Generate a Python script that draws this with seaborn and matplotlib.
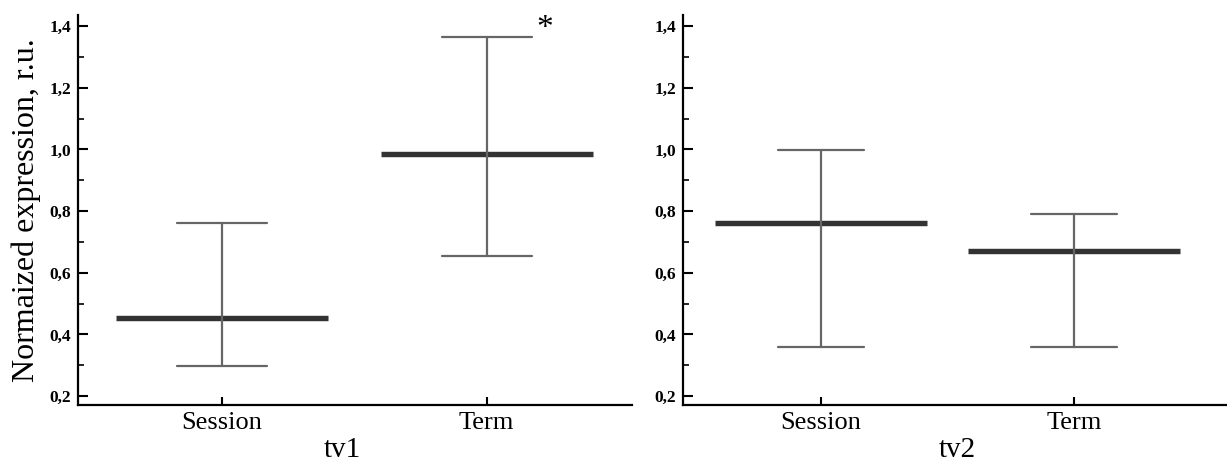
import numpy as np
import pandas as pd
import seaborn as sns
import matplotlib
matplotlib.use("Agg")
import matplotlib.pyplot as plt
from matplotlib.ticker import MultipleLocator, FuncFormatter

# ---- data ----
categories = ["Session", "Term"]
tv1_mean = [0.452, 0.985]
tv1_low = [0.298, 0.655]
tv1_high = [0.760, 1.365]
tv2_mean = [0.762, 0.672]
tv2_low = [0.360, 0.358]
tv2_high = [0.997, 0.792]
panel_names = ["tv1", "tv2"]
y_ticks = [0.2, 0.4, 0.6, 0.8, 1.0, 1.2, 1.4]
ylabel = "Normaized expression, r.u."

sns.set_style("ticks")
plt.rcParams["font.family"] = ["Liberation Serif", "DejaVu Serif"]

fig = plt.figure(figsize=(12.27, 4.61), dpi=100)
ax1 = fig.add_axes([78 / 1227, 56 / 461, 554 / 1227, 390 / 461])
ax2 = fig.add_axes([683 / 1227, 56 / 461, 544 / 1227, 390 / 461])


def long_frame(mean, low, high):
    rows = []
    for c, m, lo, hi in zip(categories, mean, low, high):
        for v in (lo, m, hi):
            rows.append({"cat": c, "val": v})
    return pd.DataFrame(rows)


datasets = [(tv1_mean, tv1_low, tv1_high), (tv2_mean, tv2_low, tv2_high)]
for ax, (m, lo, hi), name in zip([ax1, ax2], datasets, panel_names):
    df = long_frame(m, lo, hi)
    sns.pointplot(
        data=df, x="cat", y="val", order=categories, ax=ax,
        estimator="median", errorbar=lambda x: (np.min(x), np.max(x)),
        markers="_", linestyles="none", color="#333333",
        markersize=152, markeredgewidth=3.9,
        capsize=0.34, err_kws={"color": "#666666", "linewidth": 1.6, "zorder": 5},
    )
    ax.set_xlim(-0.545, 1.55 if ax is ax1 else 1.605)
    ax.set_ylim(0.171, 1.436)
    ax.set_yticks(y_ticks)
    ax.yaxis.set_minor_locator(MultipleLocator(0.1))
    ax.yaxis.set_major_formatter(FuncFormatter(lambda v, p: f"{v:.1f}".replace(".", ",")))
    for s in ["top", "right"]:
        ax.spines[s].set_visible(False)
    for s in ["left", "bottom"]:
        ax.spines[s].set_linewidth(1.6)
        ax.spines[s].set_color("black")
    ax.tick_params(axis="y", which="major", direction="in", length=7, width=1.5,
                   labelsize=12.5, pad=5, colors="black")
    ax.tick_params(axis="y", which="minor", direction="in", length=4, width=1.2, colors="black")
    ax.tick_params(axis="x", which="major", direction="in", length=6, width=1.5,
                   labelsize=19, pad=5, colors="black")
    for lab in ax.get_yticklabels():
        lab.set_fontweight("bold")
    ax.set_xlabel(name, fontsize=21, color="black")
    ax.set_ylabel("")

ax1.xaxis.set_label_coords(0.477, -0.082)
ax2.xaxis.set_label_coords(0.505, -0.082)
ax1.set_ylabel(ylabel, fontsize=23, color="black")
ax1.yaxis.set_label_coords(-0.066, 0.5)

ax1.text(1.22, 1.366, "*", fontsize=24, ha="center", va="baseline", color="black")

fig.savefig("out.png", dpi=100)
